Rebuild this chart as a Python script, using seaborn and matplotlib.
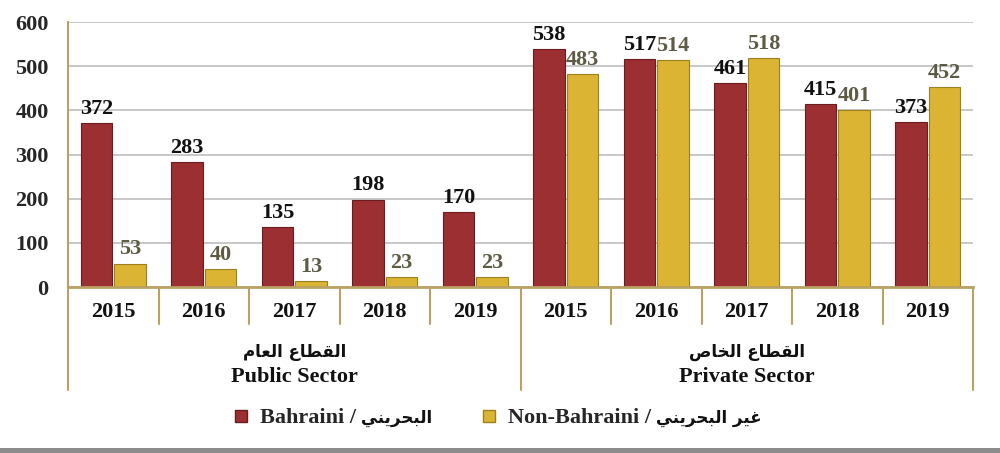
import numpy as np
import pandas as pd
import matplotlib
matplotlib.use("Agg")
import matplotlib.pyplot as plt
import matplotlib.transforms as mtransforms
from matplotlib.lines import Line2D
from matplotlib.patches import Rectangle
import seaborn as sns

# Data
years = ["2015", "2016", "2017", "2018", "2019"]
sectors_en = ["Public Sector", "Private Sector"]
sectors_ar = ["القطاع العام", "القطاع الخاص"]
bahraini_public = [372, 283, 135, 198, 170]
non_bahraini_public = [53, 40, 13, 23, 23]
bahraini_private = [538, 517, 461, 415, 373]
non_bahraini_private = [483, 514, 518, 401, 452]
yticks = [0, 100, 200, 300, 400, 500, 600]
legend_en = ["Bahraini /", "Non-Bahraini /"]
legend_ar = ["البحريني", "غير البحريني"]

RED = "#9c2f32"
GOLD = "#dcb434"
TAN = "#b9a263"

# Arabic contextual forms (isolated, final, initial, medial); matplotlib does no shaping
FORMS = {
    "ا": ("\uFE8D", "\uFE8E", None, None),
    "ر": ("\uFEAD", "\uFEAE", None, None),
    "ل": ("\uFEDD", "\uFEDE", "\uFEDF", "\uFEE0"),
    "ق": ("\uFED5", "\uFED6", "\uFED7", "\uFED8"),
    "ط": ("\uFEC1", "\uFEC2", "\uFEC3", "\uFEC4"),
    "ع": ("\uFEC9", "\uFECA", "\uFECB", "\uFECC"),
    "م": ("\uFEE1", "\uFEE2", "\uFEE3", "\uFEE4"),
    "خ": ("\uFEA5", "\uFEA6", "\uFEA7", "\uFEA8"),
    "ص": ("\uFEB9", "\uFEBA", "\uFEBB", "\uFEBC"),
    "ب": ("\uFE8F", "\uFE90", "\uFE91", "\uFE92"),
    "ح": ("\uFEA1", "\uFEA2", "\uFEA3", "\uFEA4"),
    "ي": ("\uFEF1", "\uFEF2", "\uFEF3", "\uFEF4"),
    "ن": ("\uFEE5", "\uFEE6", "\uFEE7", "\uFEE8"),
    "غ": ("\uFECD", "\uFECE", "\uFECF", "\uFED0"),
}


def shape_arabic(text):
    """Return Arabic text in joined presentation forms, in visual (LTR) order."""
    out = []
    for i, ch in enumerate(text):
        if ch not in FORMS:
            out.append(ch)
            continue
        prev = text[i - 1] if i > 0 else ""
        nxt = text[i + 1] if i + 1 < len(text) else ""
        forms = FORMS[ch]
        join_prev = prev in FORMS and FORMS[prev][2] is not None
        join_next = forms[2] is not None and nxt in FORMS
        if join_prev and join_next:
            out.append(forms[3])
        elif join_prev:
            out.append(forms[1])
        elif join_next:
            out.append(forms[2])
        else:
            out.append(forms[0])
    return "".join(reversed(out))


# Long-form table for seaborn
slots = [f"{s}|{y}" for s in sectors_en for y in years]
bahraini = bahraini_public + bahraini_private
non_bahraini = non_bahraini_public + non_bahraini_private
df = pd.DataFrame({
    "slot": slots * 2,
    "count": bahraini + non_bahraini,
    "nationality": ["Bahraini"] * len(slots) + ["Non-Bahraini"] * len(slots),
})

sns.set_style("white")
plt.rcParams["font.family"] = ["Liberation Serif", "DejaVu Sans"]
plt.rcParams["font.weight"] = "bold"

fig = plt.figure(figsize=(10, 4.53), dpi=100)
ax = fig.add_axes([0.068, 0.3664, 0.905, 0.585])

sns.barplot(data=df, x="slot", y="count", hue="nationality", order=slots,
            hue_order=["Bahraini", "Non-Bahraini"],
            palette={"Bahraini": RED, "Non-Bahraini": GOLD}, saturation=1,
            width=0.74, gap=0.06, legend=False, ax=ax)

edge = {0: "#6a1c1e", 1: "#9c8020"}
for i, cont in enumerate(ax.containers):
    for p in cont:
        p.set_edgecolor(edge[i])
        p.set_linewidth(0.8)

ax.bar_label(ax.containers[0], fmt="%d", padding=3, fontsize=16,
             fontweight="bold", color="#111111")
ax.bar_label(ax.containers[1], fmt="%d", padding=3, fontsize=16,
             fontweight="bold", color="#5e5b45")

ax.set_ylim(0, 600)
ax.set_xlim(-0.5, len(slots) - 0.5)
ax.set_yticks(yticks)
ax.set_yticklabels([str(t) for t in yticks], fontsize=16, fontweight="bold")
ax.tick_params(axis="y", length=0, pad=14)
ax.set_xticks([])
ax.set_xlabel("")
ax.set_ylabel("")
ax.yaxis.grid(True, color="#c4c4c4", linewidth=1.3)
ax.set_axisbelow(True)
for side in ["top", "right"]:
    ax.spines[side].set_visible(False)
ax.spines["left"].set_color(TAN)
ax.spines["left"].set_linewidth(1.5)
ax.spines["bottom"].set_color(TAN)
ax.spines["bottom"].set_linewidth(2)

# Two-level category table under the axis
trans = mtransforms.blended_transform_factory(ax.transData, ax.transAxes)
n = len(slots)
for k in range(n + 1):
    x = k - 0.5
    bottom = -0.39 if k % len(years) == 0 else -0.14
    ax.add_line(Line2D([x, x], [0, bottom], transform=trans, color=TAN,
                       linewidth=1.5, clip_on=False))
for k, slot in enumerate(slots):
    ax.text(k, -0.095, slot.split("|")[1], transform=trans, ha="center",
            va="center", fontsize=16, fontweight="bold", color="#111111")
for j, (en, ar) in enumerate(zip(sectors_en, sectors_ar)):
    xc = j * len(years) + (len(years) - 1) / 2
    ax.text(xc, -0.245, shape_arabic(ar), transform=trans, ha="center",
            va="center", fontsize=12, fontweight="bold", color="#111111",
            family="DejaVu Sans")
    ax.text(xc, -0.34, en, transform=trans, ha="center", va="center",
            fontsize=16, fontweight="bold", color="#111111")

# Legend: English part in the legend, Arabic part appended after each label
handles = [Line2D([], [], marker="s", linestyle="none", markersize=8,
                  markerfacecolor=RED, markeredgecolor=edge[0]),
           Line2D([], [], marker="s", linestyle="none", markersize=8,
                  markerfacecolor=GOLD, markeredgecolor=edge[1])]
leg = fig.legend(handles, legend_en, loc="center left",
                 bbox_to_anchor=(0.212, 0.077), ncol=2, frameon=False,
                 handlelength=0.8, handletextpad=0.45, columnspacing=5.6,
                 prop={"size": 16, "weight": "bold"})
fig.canvas.draw()
renderer = fig.canvas.get_renderer()
inv = fig.transFigure.inverted()
for txt, ar in zip(leg.get_texts(), legend_ar):
    bb = txt.get_window_extent(renderer)
    fx, fy = inv.transform((bb.x1 + 5, (bb.y0 + bb.y1) / 2))
    fig.text(fx, fy, shape_arabic(ar), ha="left", va="center", fontsize=12,
             fontweight="bold", color="#111111", family="DejaVu Sans")

# Grey strip along the bottom edge
fig.patches.append(Rectangle((0, 0), 1, 0.011, transform=fig.transFigure,
                             facecolor="#8c8c8c", edgecolor="none"))

fig.savefig("out.png", dpi=100)
